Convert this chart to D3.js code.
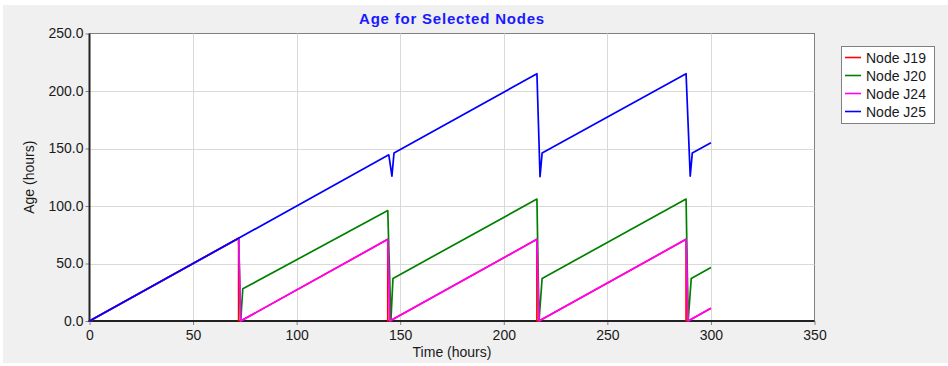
<!DOCTYPE html>
<html>
<head>
<meta charset="utf-8">
<script src="https://cdn.jsdelivr.net/npm/d3@7"></script>
<style>
  body { margin: 0; background: #fff; }
  text { font-family: Arial, "Liberation Sans", sans-serif; }
</style>
</head>
<body>
<div id="chart"></div>
<script>
// series: [hours, age]
var nodeJ19 = [[0,0],[72,72],[72,0],[73,0],[144,71],[144,0],[145,0],[216,71],[216,0],[217,0],[288,71],[288,0],[289,0],[300,11]];
var nodeJ20 = [[0,0],[72,72],[73,0],[74,28],[144,96],[145.5,0],[146.5,37],[216,106],[217,0],[218.5,37],[288,106],[289,0],[290.5,37],[300,46.5]];
var nodeJ24 = [[0,0],[72,72],[73,0],[144,71],[145,0],[216,71],[217,0],[288,71],[289,0],[300,11]];
var nodeJ25 = [[0,0],[144.5,144.5],[146,126],[147,146],[216,215],[217.5,125.5],[218.5,146],[288,215],[290,126],[291,146],[300,155]];

var seriesNames = ['Node J19', 'Node J20', 'Node J24', 'Node J25'];
var seriesData = [nodeJ19, nodeJ20, nodeJ24, nodeJ25];
var seriesColors = ['#ff0000', '#008000', '#ff00ff', '#0000ff'];

var xTicks = [0, 50, 100, 150, 200, 250, 300, 350];
var yTicks = [0, 50, 100, 150, 200, 250];

var W = 948, H = 366;
var plot = {left: 89.5, right: 814.5, top: 33.5, bottom: 321};

var svg = d3.select('#chart').append('svg')
	.attr('width', W)
	.attr('height', H);

// panel background
svg.append('rect')
	.attr('x', 3).attr('y', 5)
	.attr('width', W - 3).attr('height', 358)
	.attr('fill', '#f0f0f0');

var x = d3.scaleLinear().domain([0, 350]).range([plot.left, plot.right]);
var y = d3.scaleLinear().domain([0, 250]).range([plot.bottom, plot.top]);

svg.append('rect')
	.attr('x', plot.left).attr('y', plot.top)
	.attr('width', plot.right - plot.left).attr('height', plot.bottom - plot.top)
	.attr('fill', '#fff')
	.attr('stroke', '#808080')
	.attr('stroke-width', 1);

//////////////////////////////////////////////////
// grid
//////////////////////////////////////////////////
svg.append('g').selectAll('line.vg')
	.data(xTicks.slice(1, -1))
	.enter().append('line')
	.attr('x1', function(d) { return Math.round(x(d)) + 0.5; })
	.attr('x2', function(d) { return Math.round(x(d)) + 0.5; })
	.attr('y1', plot.top).attr('y2', plot.bottom)
	.attr('stroke', '#d9d9d9');

svg.append('g').selectAll('line.hg')
	.data(yTicks.slice(1, -1))
	.enter().append('line')
	.attr('y1', function(d) { return Math.round(y(d)) + 0.5; })
	.attr('y2', function(d) { return Math.round(y(d)) + 0.5; })
	.attr('x1', plot.left).attr('x2', plot.right)
	.attr('stroke', '#d9d9d9');

//////////////////////////////////////////////////
// axes
//////////////////////////////////////////////////
var xAxis = svg.append('g')
	.attr('transform', 'translate(0,' + plot.bottom + ')')
	.call(d3.axisBottom(x).tickValues(xTicks).tickFormat(d3.format('d')).tickSize(4).tickPadding(5));

var yAxis = svg.append('g')
	.attr('transform', 'translate(' + plot.left + ',0)')
	.call(d3.axisLeft(y).tickValues(yTicks).tickFormat(d3.format('.1f')).tickSize(4).tickPadding(2));

[xAxis, yAxis].forEach(function(ax) {
	ax.select('.domain').remove();
	ax.selectAll('.tick line').attr('stroke', '#808080');
	ax.selectAll('.tick text')
		.attr('fill', '#1a1a1a')
		.style('font-size', '14px')
		.style('font-family', 'Arial, "Liberation Sans", sans-serif');
});

svg.append('line')
	.attr('x1', plot.left).attr('x2', plot.left)
	.attr('y1', plot.top).attr('y2', plot.bottom + 1)
	.attr('stroke', '#222').attr('stroke-width', 2);
svg.append('line')
	.attr('x1', plot.left - 1).attr('x2', plot.right)
	.attr('y1', plot.bottom).attr('y2', plot.bottom)
	.attr('stroke', '#222').attr('stroke-width', 2);

//////////////////////////////////////////////////
// series
//////////////////////////////////////////////////
var line = d3.line()
	.x(function(d) { return x(d[0]); })
	.y(function(d) { return y(d[1]); });

seriesData.forEach(function(s, i) {
	svg.append('path')
		.datum(s)
		.attr('d', line)
		.attr('fill', 'none')
		.attr('stroke', seriesColors[i])
		.attr('stroke-width', 1.7)
		.attr('stroke-linejoin', 'round');
});

//////////////////////////////////////////////////
// titles
//////////////////////////////////////////////////
svg.append('text')
	.attr('x', (plot.left + plot.right) / 2)
	.attr('y', 24)
	.attr('text-anchor', 'middle')
	.attr('fill', '#1a1aff')
	.style('font-size', '15px')
	.style('letter-spacing', '0.8px')
	.style('font-weight', 'bold')
	.text('Age for Selected Nodes');

svg.append('text')
	.attr('x', (plot.left + plot.right) / 2)
	.attr('y', 357)
	.attr('text-anchor', 'middle')
	.attr('fill', '#1a1a1a')
	.style('font-size', '14px')
	.text('Time (hours)');

svg.append('text')
	.attr('transform', 'translate(34,' + ((plot.top + plot.bottom) / 2) + ') rotate(-90)')
	.attr('text-anchor', 'middle')
	.attr('fill', '#1a1a1a')
	.style('font-size', '14px')
	.text('Age (hours)');

//////////////////////////////////////////////////
// legend
//////////////////////////////////////////////////
var legend = svg.append('g');
legend.append('rect')
	.attr('x', 841.5).attr('y', 46.5)
	.attr('width', 93).attr('height', 77)
	.attr('fill', '#fff')
	.attr('stroke', '#808080');

seriesNames.forEach(function(name, i) {
	var ly = 57.5 + i * 18;
	legend.append('line')
		.attr('x1', 845).attr('x2', 861)
		.attr('y1', ly).attr('y2', ly)
		.attr('stroke', seriesColors[i])
		.attr('stroke-width', 1.6);
	legend.append('text')
		.attr('x', 866).attr('y', ly + 5)
		.attr('fill', '#1a1a1a')
		.style('font-size', '14px')
		.text(name);
});
</script>
</body>
</html>
